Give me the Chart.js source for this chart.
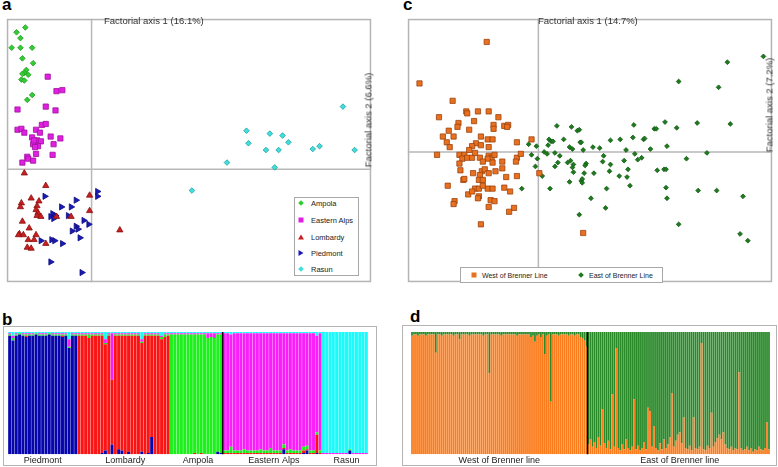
<!DOCTYPE html>
<html>
<head>
<meta charset="utf-8">
<script src="https://cdn.jsdelivr.net/npm/chart.js@4.4.0/dist/chart.umd.min.js"></script>
<style>
  body { margin:0; width:778px; height:467px; background:#fff; position:relative; overflow:hidden;
         font-family:"Liberation Sans", Arial, sans-serif; color:#333; }
  canvas, .abs { position:absolute; }
  .panel { font-weight:bold; font-size:17px; line-height:17px; color:#000; }
  .axt { font-size:9.5px; line-height:11px; white-space:nowrap; color:#333; }
  .rot { transform:translate(-50%,-50%) rotate(-90deg); }
  .box { border:1px solid #b4b4b4; box-sizing:border-box; }
  .leg { background:#fff; border:1px solid #a8a8a8; box-sizing:border-box; color:#222; }
  .leg span { position:absolute; white-space:nowrap; line-height:9px; }
  .mk { position:absolute; transform:translate(-50%,-50%); }
  .dia { width:4px; height:4px; transform:translate(-50%,-50%) rotate(45deg); }
  .sq { width:5px; height:5px; }
  .tri { width:0; height:0; border-left:3px solid transparent; border-right:3px solid transparent; border-bottom:5px solid #c82020; }
  .rtri { width:0; height:0; border-top:3px solid transparent; border-bottom:3px solid transparent; border-left:5px solid #1a1ab4; }
</style>
</head>
<body>
<div class="abs panel" style="left:2px;top:-4px">a</div>
<div class="abs panel" style="left:403px;top:-4px">c</div>
<div class="abs panel" style="left:2px;top:311px">b</div>
<div class="abs panel" style="left:410px;top:308px">d</div>

<div class="abs box" style="left:3px;top:326px;width:374px;height:140px"></div>
<div class="abs box" style="left:402px;top:325px;width:375px;height:141px"></div>

<canvas id="chartA" width="374" height="273" style="left:2px;top:14px"></canvas>
<canvas id="chartC" width="374" height="273" style="left:403px;top:14px"></canvas>
<canvas id="chartB" width="360" height="135" style="left:8px;top:332px"></canvas>
<canvas id="chartD" width="359" height="135" style="left:411px;top:332px"></canvas>

<div class="abs axt" style="left:104px;top:15px">Factorial axis 1 (16.1%)</div>
<div class="abs axt rot" style="left:368px;top:120px">Factorial axis 2 (6.6%)</div>
<div class="abs axt" style="left:538px;top:15px">Factorial axis 1 (14.7%)</div>
<div class="abs axt rot" style="left:769px;top:105px">Factorial axis 2 (7.2%)</div>

<div class="abs leg" style="left:294px;top:197px;width:65px;height:79px;font-size:7.5px">
  <div class="mk dia" style="left:6px;top:5px;background:#33cc33"></div><span style="left:16px;top:1px">Ampola</span>
  <div class="mk sq" style="left:6px;top:22px;background:#e020e0"></div><span style="left:16px;top:18px">Eastern Alps</span>
  <div class="mk tri" style="left:6px;top:39px"></div><span style="left:16px;top:35px">Lombardy</span>
  <div class="mk rtri" style="left:6px;top:55px"></div><span style="left:16px;top:51px">Piedmont</span>
  <div class="mk dia" style="left:6px;top:71px;background:#40dede"></div><span style="left:16px;top:67px">Rasun</span>
</div>

<div class="abs leg" style="left:460px;top:267px;width:203px;height:16px;font-size:7px">
  <div class="mk sq" style="left:13px;top:7px;background:#e8701e"></div><span style="left:21px;top:3px">West of Brenner Line</span>
  <div class="mk dia" style="left:120px;top:7px;background:#1e7a1e"></div><span style="left:128px;top:3px">East of Brenner Line</span>
</div>

<script>
// ---- panel a: factorial scores (axis 1, axis 2) ----
const ampola = [[-0.68,1.47],[-0.77,1.42],[-0.73,1.36],[-0.82,1.26],[-0.73,1.26],[-0.61,1.26],[-0.71,1.15],[-0.60,1.10],
  [-0.67,1.03],[-0.69,1.00],[-0.65,0.98],[-0.71,0.99],[-0.72,0.93],[-0.69,0.92],[-0.61,0.77],[-0.66,0.72]];
const easternAlps = [[-0.45,0.96],[-0.36,0.81],[-0.30,0.82],[-0.76,0.62],[-0.47,0.65],[-0.37,0.61],[-0.76,0.41],[-0.72,0.42],
  [-0.69,0.38],[-0.57,0.41],[-0.53,0.38],[-0.51,0.46],[-0.47,0.47],[-0.61,0.33],[-0.56,0.30],[-0.52,0.29],[-0.60,0.26],
  [-0.55,0.24],[-0.58,0.23],[-0.42,0.34],[-0.32,0.32],[-0.39,0.26],[-0.57,0.16],[-0.40,0.15],[-0.66,0.13],[-0.65,0.11],
  [-0.60,0.09],[-0.71,0.07],[-0.59,0.30]];
const lombardy = [[-0.69,-0.04],[-0.47,-0.17],[-0.62,-0.30],[-0.54,-0.33],[-0.72,-0.35],[-0.73,-0.39],[-0.56,-0.38],
  [-0.57,-0.42],[-0.55,-0.45],[-0.02,-0.27],[-0.02,-0.43],[-0.56,-0.48],[-0.52,-0.49],[-0.36,-0.49],[-0.21,-0.49],
  [-0.71,-0.54],[-0.64,-0.61],[-0.74,-0.67],[-0.70,-0.68],[-0.57,-0.68],[-0.59,-0.73],[-0.65,-0.73],[-0.47,-0.77],
  [-0.66,-0.81],[-0.62,-0.82],[0.29,-0.63],[-0.75,-0.68]];
const piedmont = [[-0.48,-0.28],[0.06,-0.23],[0.06,-0.28],[-0.16,-0.32],[-0.31,-0.39],[-0.21,-0.39],[-0.40,-0.46],
  [-0.37,-0.48],[-0.42,-0.49],[-0.24,-0.48],[-0.39,-0.51],[-0.08,-0.53],[-0.03,-0.57],[-0.16,-0.59],[-0.14,-0.62],
  [-0.20,-0.64],[-0.12,-0.71],[-0.52,-0.74],[-0.41,-0.73],[-0.38,-0.74],[-0.30,-0.77],[-0.42,-0.96],[-0.10,-1.07]];
const rasun = [[2.58,0.65],[1.59,0.40],[1.83,0.37],[1.96,0.35],[1.61,0.27],[2.02,0.28],[1.79,0.20],[1.92,0.20],
  [2.27,0.21],[2.34,0.24],[2.70,0.20],[1.39,0.07],[1.88,0.02],[1.03,-0.22]];

// ---- panel c: factorial scores ----
const westBrenner = [[-0.53,1.14],[-1.22,0.71],[-0.88,0.53],[-1.02,0.36],[-0.74,0.42],[-0.73,0.40],[-0.62,0.42],[-0.51,0.42],
  [-0.66,0.32],[-0.41,0.36],[-0.82,0.30],[-0.83,0.26],[-0.71,0.23],[-0.46,0.28],[-0.46,0.24],[-0.35,0.27],[-0.31,0.28],
  [-0.98,0.16],[-0.92,0.22],[-0.87,0.16],[-0.94,0.10],[-0.91,0.05],[-0.59,0.16],[-0.52,0.13],[-0.47,0.13],[-0.64,0.09],
  [-0.59,0.07],[-0.68,0.06],[-0.71,0.02],[-0.51,0.05],[-0.22,0.10],[-1.04,-0.03],[-0.81,-0.03],[-0.76,-0.03],[-0.78,-0.07],
  [-0.73,-0.06],[-0.68,-0.06],[-0.65,-0.01],[-0.51,-0.04],[-0.48,-0.06],[-0.45,-0.03],[-0.52,-0.07],[-0.60,-0.06],
  [-0.22,-0.06],[-0.18,-0.02],[-0.23,-0.10],[-0.81,-0.12],[-0.47,-0.11],[-0.37,-0.10],[-0.07,0.13],[-0.80,-0.19],
  [-0.67,-0.22],[-0.58,-0.20],[-0.55,-0.18],[-0.44,-0.20],[-0.37,-0.17],[-0.60,-0.24],[-0.51,-0.22],[-0.33,-0.26],
  [-0.22,-0.25],[-0.77,-0.29],[-0.76,-0.28],[-0.61,-0.29],[-0.57,-0.29],[-0.93,-0.35],[-0.65,-0.38],[-0.61,-0.38],
  [-0.52,-0.38],[-0.47,-0.38],[-0.35,-0.37],[-0.29,-0.41],[-0.72,-0.44],[-0.68,-0.41],[-0.61,-0.46],[-0.62,-0.48],
  [-0.86,-0.51],[-0.87,-0.54],[-0.49,-0.50],[-0.45,-0.51],[-0.51,-0.57],[-0.25,-0.58],[-0.30,-0.62],[-0.59,-0.75],
  [0.46,-0.84],[0.01,-0.22],[-0.32,0.26],[-0.57,-0.35],[-0.57,-0.10]];
const eastBrenner = [[2.31,0.99],[1.94,0.93],[1.44,0.73],[1.85,0.67],[0.19,0.27],[0.34,0.26],[0.40,0.22],[0.42,0.23],
  [0.98,0.28],[1.19,0.24],[1.21,0.24],[1.30,0.31],[1.42,0.25],[1.63,0.30],[1.97,0.29],[-0.10,0.08],[-0.02,0.06],
  [0.11,0.13],[0.13,0.11],[0.15,0.11],[0.26,0.13],[0.10,0.07],[0.32,0.05],[0.43,0.10],[0.44,0.10],[0.56,0.05],[0.63,0.04],
  [0.74,0.12],[0.84,0.13],[0.97,0.15],[1.08,0.13],[1.09,0.14],[1.15,0.03],[1.32,0.06],[0.06,0.00],[-0.07,-0.03],
  [0.09,-0.02],[0.17,-0.01],[0.35,0.03],[0.46,0.02],[0.90,0.02],[0.99,-0.02],[1.06,-0.06],[1.02,-0.08],[0.67,-0.04],
  [0.66,-0.10],[0.74,-0.13],[0.88,-0.09],[1.52,-0.07],[1.73,-0.01],[-0.01,-0.07],[-0.03,-0.15],[0.17,-0.15],[0.20,-0.11],
  [0.22,-0.04],[0.30,-0.11],[0.33,-0.09],[0.36,-0.13],[0.35,-0.16],[0.49,-0.12],[0.48,-0.14],[0.36,-0.21],[0.47,-0.22],
  [0.57,-0.22],[0.73,-0.20],[0.83,-0.25],[0.91,-0.26],[0.92,-0.18],[1.22,-0.19],[1.29,-0.18],[1.31,-0.18],[0.04,-0.25],
  [0.32,-0.31],[0.44,-0.30],[0.45,-0.28],[0.45,-0.32],[0.94,-0.35],[-0.17,-0.38],[0.12,-0.38],[0.70,-0.38],[1.31,-0.37],
  [1.64,-0.40],[1.83,-0.40],[0.54,-0.48],[1.32,-0.48],[2.10,-0.46],[0.69,-0.58],[0.42,-0.65],[1.44,-0.75],[2.07,-0.85],
  [2.15,-0.92]];

// ---- panel b: membership of each individual in the 5 clusters ----
const groupsB = ['Piedmont', 'Lombardy', 'Ampola', 'Eastern Alps', 'Rasun'];
const sizesB = [21, 28, 16, 30, 14];
const qBlue = [
  .97,.93,.97,.98,.97,.96,.97,.97,.98,.97,.97,.97,.98,.97,.97,.97,.96,.97,.87,.97,.97,
  0,0,0,0,0,0,0,.01,.03,0,.08,0,.04,.03,0,.02,0,0,0,.02,0,.01,.14,0,0,0,0,0,
  0,0,0,0,0,0,0,0,0,0,0,0,0,0,.02,.01,
  0,0,0,0,0,0,0,0,0,0,0,0,0,0,0,0,0,0,.04,0,0,0,0,0,.01,.03,0,0,.01,0,
  0,0,0,0,0,0,0,0,.03,0,0,0,0,0];
const qRed = [
  0,0,0,0,0,.01,0,0,0,0,0,0,0,0,0,0,.01,0,0,0,0,
  .97,.97,.97,.95,.97,.97,.97,.96,.87,.97,.53,.97,.93,.94,.97,.95,.97,.97,.97,.89,.97,.96,.83,.97,.97,.94,.96,.97,
  0,0,0,0,0,0,0,.01,0,.01,0,0,0,0,0,0,
  .01,.01,.01,.01,.01,.01,.01,.01,.01,.01,.01,.01,.01,.01,.01,.01,.01,.01,.01,.01,.01,.01,.01,.01,.02,.01,.01,.01,.15,.01,
  0,0,0,0,0,0,0,0,0,0,0,0,0,0];
const qGreen = [
  .01,.02,.01,.01,.01,.01,.01,.01,.01,.01,.01,.01,.01,.01,.01,.01,.01,.01,.01,.01,.01,
  .01,.01,.01,.03,.01,.01,.01,.01,.01,.01,0,.01,.01,.01,.01,.01,.01,.01,.01,.01,.01,.01,.01,.01,.01,.02,.02,.01,
  .98,.98,.98,.98,.98,.98,.98,.97,.98,.97,.98,.95,.96,.95,.96,.97,
  .02,.02,.05,.02,.02,.02,.03,.02,.02,.02,.02,.03,.02,.02,.04,.02,.02,.02,.03,.02,.03,.02,.02,.02,.03,.03,.02,.02,.02,.02,
  0,0,0,0,0,0,0,0,.01,0,0,0,0,0];
const qMagenta = [
  .01,.02,.01,0,.01,.01,.01,.01,0,.01,.01,.01,0,.01,.01,.01,.01,.01,.06,.01,.01,
  .01,.01,.01,.01,.01,.01,.01,.01,.03,.01,.38,.01,.01,.01,.01,.01,.01,.01,.01,.02,.01,.01,.01,.01,.01,.01,.01,.01,
  .01,.01,.01,.01,.01,.01,.01,.01,.01,.01,.01,.04,.03,.04,.01,.01,
  .96,.96,.92,.96,.96,.96,.95,.96,.96,.96,.96,.95,.96,.96,.94,.96,.96,.96,.91,.96,.95,.96,.96,.96,.93,.92,.96,.96,.79,.96,
  .01,.01,.01,.01,.01,.01,.01,.01,0,.01,.01,.01,.01,.01];
const qCyan = [
  .01,.03,.01,.01,.01,.01,.01,.01,.01,.01,.01,.01,.01,.01,.01,.01,.01,.01,.06,.01,.01,
  .01,.01,.01,.01,.01,.01,.01,.01,.06,.01,.01,.01,.01,.01,.01,.01,.01,.01,.01,.06,.01,.01,.01,.01,.01,.03,.01,.01,
  .01,.01,.01,.01,.01,.01,.01,.01,.01,.01,.01,.01,.01,.01,.01,.01,
  .01,.01,.02,.01,.01,.01,.01,.01,.01,.01,.01,.01,.01,.01,.01,.01,.01,.01,.01,.01,.01,.01,.01,.01,.01,.01,.01,.01,.03,.01,
  .99,.99,.99,.99,.99,.99,.99,.99,.96,.99,.99,.99,.99,.99];

// ---- panel d: membership in the 2 clusters ----
const groupsD = ['West of Brenner line', 'East of Brenner line'];
const sizesD = [89, 92];
const qOrange = [
  .97,.98,.98,.97,.98,.98,.98,.97,.98,.98,.98,.98,.83,.98,.98,.97,.98,.98,.98,.98,.98,.97,.98,.98,.94,
  .98,.98,.98,.98,.97,.98,.98,.98,.98,.98,.98,.97,.98,.98,.66,.98,.98,.98,.98,.98,.97,.98,.98,.98,.98,
  .98,.98,.98,.97,.98,.98,.98,.98,.98,.98,.96,.97,.92,.97,.98,.96,.98,.82,.97,.98,.43,.98,.98,.98,.97,
  .98,.98,.98,.98,.97,.98,.98,.97,.98,.98,.96,.95,.93,.88,
  .08,.12,.06,.10,.05,.14,.07,.37,.09,.05,.11,.04,.49,.06,.87,.05,.03,.08,.04,.12,.05,.03,.06,.45,.04,
  .07,.03,.05,.10,.04,.38,.35,.06,.23,.05,.03,.09,.04,.12,.05,.08,.14,.50,.06,.11,.16,.18,.09,.30,.05,
  .04,.07,.03,.30,.05,.04,.06,.91,.04,.03,.07,.05,.34,.06,.10,.13,.16,.12,.18,.08,.05,.04,.06,.03,.05,
  .04,.67,.05,.03,.04,.06,.03,.05,.02,.04,.03,.06,.04,.03,.05,.26,.04];
const qDarkGreen = [
  .03,.02,.02,.03,.02,.02,.02,.03,.02,.02,.02,.02,.17,.02,.02,.03,.02,.02,.02,.02,.02,.03,.02,.02,.06,
  .02,.02,.02,.02,.03,.02,.02,.02,.02,.02,.02,.03,.02,.02,.34,.02,.02,.02,.02,.02,.03,.02,.02,.02,.02,
  .02,.02,.02,.03,.02,.02,.02,.02,.02,.02,.04,.03,.08,.03,.02,.04,.02,.18,.03,.02,.57,.02,.02,.02,.03,
  .02,.02,.02,.02,.03,.02,.02,.03,.02,.02,.04,.05,.07,.12,
  .92,.88,.94,.90,.95,.86,.93,.63,.91,.95,.89,.96,.51,.94,.13,.95,.97,.92,.96,.88,.95,.97,.94,.55,.96,
  .93,.97,.95,.90,.96,.62,.65,.94,.77,.95,.97,.91,.96,.88,.95,.92,.86,.50,.94,.89,.84,.82,.91,.70,.95,
  .96,.93,.97,.70,.95,.96,.94,.09,.96,.97,.93,.95,.66,.94,.90,.87,.84,.88,.82,.92,.95,.96,.94,.97,.95,
  .96,.33,.95,.97,.96,.94,.97,.95,.98,.96,.97,.94,.96,.97,.95,.74,.96];

const FONT = '"Liberation Sans", Arial, sans-serif';

// zero axes and frame for the factorial plots
const crossFrame = {
  id: 'crossFrame',
  beforeDatasetsDraw(chart) {
    const { ctx, chartArea: a, scales: { x, y } } = chart;
    ctx.save();
    ctx.strokeStyle = '#b8b8b8';
    ctx.lineWidth = 1.5;
    const x0 = x.getPixelForValue(0), y0 = y.getPixelForValue(0);
    ctx.beginPath();
    ctx.moveTo(x0, a.top); ctx.lineTo(x0, a.bottom);
    ctx.moveTo(a.left, y0); ctx.lineTo(a.right, y0);
    ctx.stroke();
    ctx.strokeStyle = '#b4b4b4';
    ctx.strokeRect(a.left + 0.75, a.top + 0.75, a.right - a.left - 1.5, a.bottom - a.top - 1.5);
    ctx.restore();
  }
};

// black line between two groups of bars
const divider = {
  id: 'divider',
  afterDatasetsDraw(chart, args, opts) {
    const { ctx, chartArea: a, scales: { x } } = chart;
    const px = (x.getPixelForValue(opts.at - 1) + x.getPixelForValue(opts.at)) / 2;
    ctx.save();
    ctx.strokeStyle = '#000';
    ctx.lineWidth = 1.5;
    ctx.beginPath();
    ctx.moveTo(px, a.top); ctx.lineTo(px, a.bottom);
    ctx.stroke();
    ctx.restore();
  }
};

const toXY = pts => pts.map(p => ({ x: p[0], y: p[1] }));

function scatterChart(id, datasets, xr, yr) {
  return new Chart(document.getElementById(id), {
    type: 'scatter',
    data: { datasets },
    options: {
      responsive: false, animation: false, devicePixelRatio: 1, events: [],
      layout: { padding: 0 },
      plugins: { legend: { display: false }, tooltip: { enabled: false } },
      scales: {
        x: { type: 'linear', min: xr[0], max: xr[1], display: false },
        y: { type: 'linear', min: yr[0], max: yr[1], display: false }
      }
    },
    plugins: [crossFrame]
  });
}

scatterChart('chartA', [
  { data: toXY(ampola), pointStyle: 'rectRot', radius: 2.8, backgroundColor: '#33cc33', borderColor: '#1f9a1f', borderWidth: 0.8 },
  { data: toXY(easternAlps), pointStyle: 'rect', radius: 3.7, backgroundColor: '#e020e0', borderColor: '#a010a0', borderWidth: 0.8 },
  { data: toXY(lombardy), pointStyle: 'triangle', radius: 3.6, backgroundColor: '#c82020', borderColor: '#8a1010', borderWidth: 0.8 },
  { data: toXY(piedmont), pointStyle: 'triangle', rotation: 90, radius: 3.6, backgroundColor: '#1a1ab4', borderColor: '#0e0e80', borderWidth: 0.8 },
  { data: toXY(rasun), pointStyle: 'rectRot', radius: 2.8, backgroundColor: '#40dede', borderColor: '#20a0a0', borderWidth: 0.8 }
], [-0.87, 2.87], [-1.17, 1.56]);

scatterChart('chartC', [
  { data: toXY(westBrenner), pointStyle: 'rect', radius: 3.7, backgroundColor: '#e8701e', borderColor: '#9c4410', borderWidth: 0.8 },
  { data: toXY(eastBrenner), pointStyle: 'rectRot', radius: 2.4, backgroundColor: '#1e7a1e', borderColor: '#135a13', borderWidth: 0.8 }
], [-1.34, 2.40], [-1.35, 1.38]);

function groupLabels(names, sizes) {
  const out = [];
  names.forEach((n, g) => {
    for (let i = 0; i < sizes[g]; i++) out.push(i === Math.floor(sizes[g] / 2) ? n : '');
  });
  return out;
}

function admixChart(id, labels, series, at) {
  return new Chart(document.getElementById(id), {
    type: 'bar',
    data: {
      labels,
      datasets: series.map(s => ({
        data: s.q, backgroundColor: s.color, borderWidth: 0,
        barPercentage: 1, categoryPercentage: 0.9
      }))
    },
    options: {
      responsive: false, animation: false, devicePixelRatio: 1, events: [],
      layout: { padding: 0 },
      plugins: { legend: { display: false }, tooltip: { enabled: false }, divider: { at } },
      scales: {
        x: {
          stacked: true,
          grid: { display: false, drawTicks: false },
          border: { display: false },
          ticks: { autoSkip: false, maxRotation: 0, minRotation: 0, padding: 1,
                   color: '#222', font: { size: 9, family: FONT } }
        },
        y: { stacked: true, min: 0, max: 1, display: false }
      }
    },
    plugins: [divider]
  });
}

admixChart('chartB', groupLabels(groupsB, sizesB), [
  { q: qBlue, color: '#0606ac' },
  { q: qRed, color: '#fa1414' },
  { q: qGreen, color: '#1ef01e' },
  { q: qMagenta, color: '#fa1efa' },
  { q: qCyan, color: '#1efafa' }
], sizesB[0] + sizesB[1] + sizesB[2]);

admixChart('chartD', groupLabels(groupsD, sizesD), [
  { q: qOrange, color: '#fb7c1c' },
  { q: qDarkGreen, color: '#2a8a2a' }
], sizesD[0]);
</script>
</body>
</html>
